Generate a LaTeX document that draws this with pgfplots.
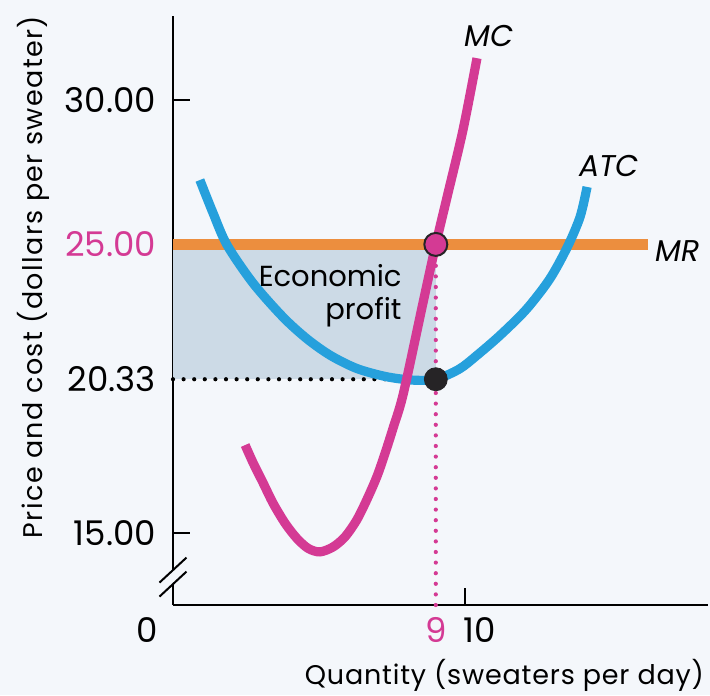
\documentclass[border=0pt]{standalone}
\usepackage{fontspec}
\setmainfont{Poppins}
\usepackage{pgfplots}
\pgfplotsset{compat=1.18}

\definecolor{mcmag}{RGB}{212,58,148}
\definecolor{atcblue}{RGB}{38,160,220}
\definecolor{mrorange}{RGB}{236,142,62}
\definecolor{profitfill}{RGB}{204,218,230}
\definecolor{bg}{RGB}{244,247,251}
\definecolor{dotdark}{RGB}{38,36,38}

\begin{document}
\begin{tikzpicture}
% page background (scanned paper tint)
\fill[bg] (-86.5pt,-45pt) rectangle (268.5pt,302.5pt);
\begin{axis}[
  x=14.6pt, y=14.435pt,
  xmin=0, xmax=18.32, ymin=12.51, ymax=32.91,
  axis x line*=bottom, axis y line*=left,
  axis line style={line width=1pt, -},
  xtick={10}, xticklabels={},
  ytick={15,30}, yticklabels={15.00,30.00},
  extra y ticks={20.33,25},
  extra y tick labels={20.33,\textcolor{mcmag}{25.00}},
  extra y tick style={major tick length=0pt},
  tick align=inside, major tick length=8.5pt,
  tick style={line width=1pt, black},
  yticklabel style={font=\fontsize{17}{20}\selectfont, xshift=-5pt},
  clip=false,
]
% economic profit area
\addplot[draw=none, fill=profitfill] coordinates {(0,20.33) (9,20.33) (9,25) (0,25)} -- cycle;
% MR
\addplot[mrorange, line width=5.5pt] coordinates {(0,25) (16.27,25)};
% guide lines
\addplot[black, line width=2.1pt, line cap=round, dash pattern=on 0pt off 5.3pt]
  coordinates {(0,20.33) (9,20.33)};
\addplot[mcmag, line width=2.1pt, line cap=round, dash pattern=on 0pt off 5.3pt]
  coordinates {(9,12.51) (9,25)};
% ATC
\addplot[atcblue, line width=4.6pt, smooth] coordinates {
  (0.92,27.23) (1.37,26.09) (1.85,24.98) (2.74,23.66) (3.77,22.48) (4.6,21.72)
  (5.4,21.15) (6.3,20.7) (7.3,20.42) (8.2,20.3) (9.0,20.33) (9.8,20.68)
  (10.4,21.15) (11.2,21.85) (12.1,22.75) (12.9,23.8) (13.5,24.9) (13.94,25.95)
  (14.18,26.99)};
% MC
\addplot[mcmag, line width=4.6pt, smooth] coordinates {
  (2.47,18.05) (2.75,17.42) (3.09,16.73) (3.43,16.03) (3.84,15.34) (4.24,14.82)
  (4.63,14.47) (5.03,14.35) (5.48,14.52) (5.89,14.87) (6.29,15.45) (6.63,16.14)
  (6.98,16.95) (7.26,17.76) (7.55,18.68) (7.89,19.84) (8.56,22.97) (9.0,25.0)
  (9.4,26.7) (9.93,28.96) (10.41,31.45)};
% points
\addplot[only marks, mark=*, mark size=5.75pt,
  mark options={fill=mcmag, draw=dotdark, line width=1pt}] coordinates {(9,25)};
\addplot[only marks, mark=*, mark size=5.75pt,
  mark options={fill=dotdark, draw=dotdark}] coordinates {(9,20.33)};

% curve labels
\node[font=\itshape\fontsize{15}{18}\selectfont] at (axis cs:10.82,32.22) {MC};
\node[font=\itshape\fontsize{15}{18}\selectfont] at (axis cs:14.93,27.71) {ATC};
\node[font=\itshape\fontsize{15}{18}\selectfont, anchor=west, inner sep=0pt] at (axis cs:16.51,24.77) {MR};
\node[align=right, anchor=east, inner sep=0pt, font=\fontsize{14.5}{16.5}\selectfont]
  at (axis cs:7.84,23.21) {Economic\\profit};

% axis labels
\node[rotate=90, font=\fontsize{13.5}{15}\selectfont\addfontfeature{LetterSpace=5}]
  at ([xshift=-70pt]axis cs:0,23.87) {Price and cost (dollars per sweater)};
\node[font=\fontsize{13.5}{15}\selectfont\addfontfeature{LetterSpace=3}]
  at ([yshift=-35pt]axis cs:11.35,12.51) {Quantity (sweaters per day)};
\node[font=\fontsize{17}{20}\selectfont] at ([xshift=-13pt,yshift=-12.5pt]axis cs:0,12.51) {0};
\node[font=\fontsize{17}{20}\selectfont, text=mcmag] at ([yshift=-12.5pt]axis cs:9,12.51) {9};
\node[font=\fontsize{17}{20}\selectfont] at ([yshift=-12.5pt]axis cs:10.5,12.51) {10};

% axis break
\draw[bg, line width=2pt] (axis cs:0,13.235) -- (axis cs:0,13.72);
\draw[black, line width=1pt] ([shift={(-6.75pt,-6.25pt)}]axis cs:0,13.72) -- ++(13.5pt,12.5pt);
\draw[black, line width=1pt] ([shift={(-6.75pt,-6.25pt)}]axis cs:0,13.235) -- ++(13.5pt,12.5pt);
\end{axis}
\pgfresetboundingbox
\useasboundingbox (-86.5pt,-45pt) rectangle (268.5pt,302.5pt);
\end{tikzpicture}
\end{document}
